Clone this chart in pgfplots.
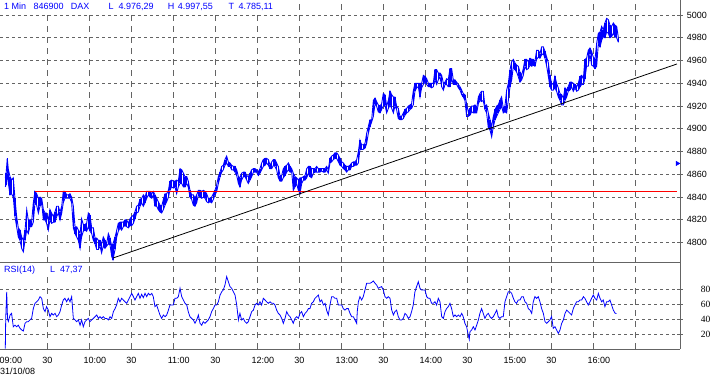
\documentclass[border=0pt]{standalone}
\usepackage{fontspec}
\setmainfont{Liberation Sans}
\newfontfamily\serifnum{Liberation Serif}
\usepackage{pgfplots}
\pgfplotsset{compat=1.18}
\usepackage{pgfplotstable}
\definecolor{dblue}{RGB}{0,0,255}
\definecolor{gridc}{RGB}{100,100,100}

\pgfplotstableread{
m lo hi
0.0 4849 4857
0.6 4851 4861
1.4 4861 4874
2.2 4852 4864
3.4 4842 4858
4.5 4843 4855
5.7 4840 4857
6.9 4823 4839
8.1 4814 4823
9.3 4805 4813
10.5 4802 4811
11.7 4795 4805
12.9 4792 4802
14.1 4802 4811
15.3 4811 4829
16.4 4808 4820
17.6 4814 4820
18.8 4814 4818
20.0 4818 4835
21.2 4835 4845
22.4 4833 4843
23.6 4826 4839
24.8 4832 4840
26.0 4835 4839
27.2 4820 4829
28.4 4820 4826
29.5 4817 4826
30.7 4811 4820
31.9 4820 4829
33.1 4817 4826
34.3 4818 4823
35.5 4818 4827
36.7 4823 4832
37.9 4826 4832
39.1 4820 4827
40.3 4826 4832
41.4 4835 4845
42.6 4839 4845
43.8 4839 4842
45.0 4839 4842
46.2 4839 4843
47.4 4835 4840
48.6 4813 4832
49.8 4808 4814
51.0 4805 4814
52.2 4802 4811
53.4 4795 4808
54.5 4805 4821
55.7 4810 4816
56.9 4811 4816
58.1 4810 4817
59.3 4814 4826
60.5 4810 4824
61.7 4808 4813
62.9 4802 4813
64.1 4799 4804
65.3 4794 4804
66.5 4794 4802
67.6 4797 4802
68.8 4791 4799
70.0 4797 4805
71.2 4795 4802
72.4 4797 4799
73.6 4799 4808
74.8 4798 4804
76.0 4788 4797
76.9 4785 4799
78.4 4794 4805
79.6 4805 4811
80.7 4810 4817
81.9 4813 4818
83.1 4811 4818
84.3 4814 4818
85.5 4815 4820
86.7 4814 4820
87.9 4813 4817
89.1 4815 4821
90.3 4815 4823
91.5 4817 4824
92.6 4821 4827
93.8 4826 4832
95.0 4827 4833
96.2 4832 4838
97.4 4835 4839
98.6 4832 4842
99.8 4835 4840
101.0 4839 4845
102.2 4842 4845
103.4 4840 4845
104.6 4839 4843
105.7 4842 4845
106.9 4832 4842
108.1 4832 4839
109.3 4829 4836
110.5 4827 4833
111.7 4826 4832
112.9 4829 4838
114.1 4833 4843
115.3 4836 4843
116.5 4840 4846
117.6 4846 4854
118.8 4849 4855
120.0 4848 4854
121.2 4849 4854
122.4 4843 4855
123.6 4849 4854
124.8 4852 4865
126.0 4852 4864
127.2 4849 4861
128.4 4849 4858
129.6 4852 4858
130.7 4849 4854
131.9 4840 4846
133.1 4838 4842
134.3 4833 4842
135.5 4832 4839
136.7 4835 4842
137.9 4842 4846
139.1 4840 4846
140.3 4839 4845
141.5 4840 4846
142.7 4839 4845
143.8 4836 4843
145.0 4835 4839
146.2 4836 4839
147.4 4835 4840
148.6 4838 4843
149.8 4842 4846
151.0 4845 4851
152.2 4852 4858
153.4 4858 4862
154.6 4862 4867
155.7 4864 4868
156.9 4868 4873
158.1 4870 4876
159.3 4867 4871
160.5 4867 4870
161.7 4864 4868
162.9 4864 4867
164.1 4862 4867
165.3 4859 4864
166.5 4852 4858
167.6 4849 4857
168.8 4855 4861
170.0 4858 4862
171.2 4858 4862
172.4 4855 4859
173.6 4852 4858
174.8 4855 4861
176.0 4858 4864
177.2 4862 4865
178.4 4862 4865
179.5 4862 4864
180.7 4859 4862
181.9 4861 4865
183.1 4864 4870
184.3 4867 4873
185.5 4868 4874
186.7 4870 4874
187.9 4868 4873
189.1 4865 4868
190.3 4865 4871
191.5 4868 4873
192.6 4867 4873
193.8 4864 4870
195.0 4857 4867
196.2 4854 4859
197.4 4854 4859
198.6 4857 4865
199.8 4859 4867
201.0 4862 4868
202.2 4864 4870
203.4 4862 4867
204.6 4862 4865
205.7 4846 4861
206.9 4849 4858
208.1 4852 4857
209.3 4846 4855
210.5 4843 4857
211.7 4852 4857
212.9 4855 4858
214.1 4855 4859
215.3 4857 4865
216.5 4861 4867
217.6 4858 4867
218.8 4857 4865
220.0 4861 4865
221.2 4862 4865
222.4 4862 4867
223.6 4862 4865
224.8 4862 4865
226.0 4863 4865
227.2 4862 4865
228.4 4862 4865
229.5 4864 4867
230.7 4861 4864
231.9 4870 4874
233.1 4871 4876
234.3 4873 4877
235.5 4874 4879
236.7 4874 4879
237.9 4871 4877
239.1 4868 4874
240.3 4867 4871
241.5 4865 4870
242.6 4864 4868
243.8 4862 4867
245.0 4864 4867
246.2 4864 4868
247.4 4867 4870
248.6 4867 4871
249.8 4868 4871
251.0 4868 4873
252.2 4870 4880
253.3 4882 4890
254.5 4882 4886
255.7 4882 4886
256.9 4883 4887
258.1 4887 4896
259.3 4896 4902
260.5 4902 4908
261.7 4906 4908
262.9 4911 4925
264.1 4922 4927
265.2 4920 4924
266.4 4915 4921
267.6 4914 4920
268.8 4917 4922
270.0 4920 4931
271.2 4921 4930
272.4 4914 4920
273.6 4918 4925
274.8 4921 4933
276.0 4918 4930
277.2 4914 4928
278.3 4920 4928
279.5 4917 4920
280.7 4909 4918
281.9 4908 4911
283.1 4908 4911
284.3 4909 4914
285.5 4912 4917
286.7 4914 4918
287.9 4915 4920
289.1 4917 4921
290.2 4918 4922
291.4 4921 4933
292.6 4933 4940
293.8 4936 4940
295.0 4937 4940
296.2 4928 4940
297.4 4936 4940
298.6 4939 4947
299.8 4941 4946
301.0 4939 4944
302.2 4937 4940
303.3 4937 4940
304.5 4936 4940
305.7 4937 4940
306.9 4943 4952
308.1 4939 4952
309.3 4943 4949
310.5 4946 4949
311.7 4937 4947
312.9 4934 4940
314.1 4939 4941
315.2 4939 4944
316.4 4937 4943
317.6 4937 4953
318.8 4944 4953
320.0 4939 4943
321.2 4939 4943
322.4 4939 4941
323.6 4936 4939
324.8 4934 4937
326.0 4930 4934
327.1 4928 4931
328.3 4925 4930
329.5 4911 4922
330.7 4911 4915
331.9 4912 4918
333.1 4915 4920
334.3 4914 4920
335.5 4914 4921
336.7 4914 4918
337.9 4922 4928
339.0 4925 4931
340.2 4924 4933
341.4 4925 4933
342.6 4917 4920
343.8 4914 4921
345.0 4901 4914
346.2 4899 4908
347.4 4893 4902
348.6 4902 4911
349.8 4908 4917
351.0 4911 4920
352.1 4914 4921
353.3 4917 4925
354.5 4920 4928
355.7 4914 4918
356.9 4915 4920
358.1 4914 4934
359.3 4925 4940
360.5 4937 4952
361.7 4943 4959
362.9 4955 4961
364.0 4952 4958
365.2 4950 4956
366.4 4946 4955
367.6 4941 4950
368.8 4943 4947
370.0 4947 4953
371.2 4955 4961
372.4 4952 4961
373.6 4953 4959
374.8 4956 4962
376.0 4955 4961
377.1 4956 4961
378.3 4955 4959
379.5 4961 4969
380.7 4963 4969
381.9 4962 4966
383.1 4965 4972
384.3 4966 4972
385.5 4962 4968
386.7 4955 4963
387.9 4946 4958
389.0 4937 4947
390.2 4934 4940
391.4 4934 4939
392.6 4936 4946
393.8 4933 4940
395.0 4928 4936
396.2 4925 4931
397.4 4921 4930
398.6 4921 4927
399.8 4925 4936
401.0 4928 4934
402.1 4933 4937
403.3 4934 4941
404.5 4937 4941
405.7 4933 4940
406.9 4936 4939
408.1 4933 4937
409.3 4934 4940
410.5 4937 4946
411.7 4939 4947
412.9 4939 4944
414.0 4944 4961
415.2 4955 4962
416.4 4955 4969
417.6 4966 4971
418.8 4956 4968
420.0 4955 4963
421.2 4953 4961
422.4 4955 4975
423.6 4975 4984
424.8 4972 4985
426.0 4978 4990
427.1 4981 4987
428.3 4980 4993
429.5 4985 4997
430.7 4984 4996
431.9 4980 4991
433.1 4981 4990
434.3 4984 4993
435.5 4981 4991
436.7 4980 4990
437.9 4976 4980
}\pricedata

\pgfplotstableread{
m rsi
0.0 1
0.3 41
1.0 76
1.6 40
2.2 37
3.4 45.5
4.5 47.7
5.7 30
6.9 32
8.1 30
9.3 32
10.5 28
11.7 25.7
12.9 24.3
14.1 34.5
15.3 36.7
16.4 36.7
17.6 39
18.8 41
20.0 54
21.2 61
22.4 63
23.6 65.4
24.8 69.8
26.0 67.6
27.2 54
28.4 50
29.5 56.6
30.7 52
31.9 43.3
33.1 47.7
34.3 45.5
35.5 47.7
36.7 43.3
37.9 45.5
39.1 50
40.3 58.8
41.4 65.4
42.6 67.6
43.8 63
45.0 67.6
46.2 63
47.4 69.8
48.6 41
49.8 39
51.0 36.7
52.2 39
53.4 32
54.5 39
55.7 30
56.9 36.7
58.1 39
59.3 41
60.5 36.7
61.7 39
62.9 41
64.1 43.3
65.3 45.5
66.5 41
67.6 43.3
68.8 41
70.0 43.3
71.2 41
72.4 41
73.6 39
74.8 43.3
76.0 41
77.2 50
78.4 54
79.5 58.8
80.7 67.6
81.9 63
83.1 67.6
84.3 65.4
85.5 63
86.7 61
87.9 65.4
89.1 69.8
90.3 74.2
91.5 69.8
92.6 65.4
93.8 69.8
95.0 74.2
96.2 67.6
97.4 73
98.6 68.5
99.8 74.2
101.0 69.8
102.2 74.2
103.4 72
104.6 74.2
105.7 69.8
106.9 56.6
108.1 58.8
109.3 52
110.5 45.5
111.7 41
112.9 45.5
114.1 43.3
115.3 45.5
116.5 52
117.6 58.8
118.8 58.8
120.0 58.8
121.2 67.6
122.4 67.6
123.6 69.8
124.8 80.9
126.0 69.8
127.2 65.4
128.4 61
129.6 58.8
130.7 50
131.9 43.3
133.1 41
134.3 39
135.5 34.5
136.7 39
137.9 45.5
139.1 34.5
140.3 32
141.4 36.7
142.6 34.5
143.8 36.7
145.0 39
146.2 43.3
147.4 50
148.6 54
149.8 58.8
151.0 58.8
152.2 63
153.4 72
154.6 76.4
155.7 78.6
156.9 85.3
158.1 96.3
159.3 89.7
160.5 83.1
161.7 80.9
162.9 76.4
164.1 72
165.3 58.8
166.5 39
167.6 47.7
168.8 39
170.0 41
171.2 36.7
172.4 34.5
173.6 36.7
174.8 43.3
176.0 50
177.2 52
178.4 58.8
179.5 61
180.7 58.8
181.9 63
183.1 58.8
184.3 67.6
185.5 65.4
186.7 63
187.9 61
189.1 63
190.3 61
191.5 61
192.6 58.8
193.8 52
195.0 47.7
196.2 45.5
197.4 41
198.6 34.5
199.8 41
201.0 50
202.2 45.5
203.4 43.3
204.6 39
205.7 34.5
206.9 41
208.1 43.3
209.3 41
210.5 47.7
211.7 50
212.9 43.3
214.1 47.7
215.3 50
216.5 54
217.6 54
218.8 61
220.0 63
221.2 67.6
222.4 69.8
223.6 72
224.8 63
226.0 65.4
227.2 58.8
228.4 61
229.5 52
230.7 45.5
231.9 58.8
233.1 69.8
234.3 69.8
235.5 67.6
236.7 67.6
237.9 58.8
239.1 58.8
240.3 58.8
241.4 54
242.6 52
243.8 54
245.0 54
246.2 47.7
247.4 43.3
248.6 43.3
249.8 39
251.0 34.5
251.4 50
252.2 63
253.3 69.8
254.5 65.4
255.7 69.8
256.9 78.6
258.1 87.5
259.3 87.5
260.5 87.5
261.7 88.8
262.9 90.6
264.1 87.5
265.2 85.3
266.4 80.9
267.6 82.2
268.8 83.1
270.0 78.6
271.2 69.8
272.4 67.6
273.6 69.8
274.8 67.6
276.0 52
277.2 45.5
278.3 50
279.5 52
280.7 43.3
281.9 39
283.1 39
284.3 41
285.5 47.7
286.7 45.5
287.9 41
289.1 43.3
290.2 50
291.4 58.8
292.6 76.4
293.8 83.1
295.0 89.7
296.2 80.9
297.4 78.6
298.6 78.6
299.8 78.6
301.0 69.8
302.2 67.6
303.3 67.6
304.5 61
305.7 61
306.9 63
308.1 58.8
309.3 67.6
310.5 63
311.7 43.3
312.9 41
314.1 50
315.2 54
316.4 56.6
317.6 61
318.8 54
320.0 43.3
321.2 45.5
322.4 43.3
323.6 45.5
324.8 43.3
326.0 47.7
327.1 43.3
328.3 34.5
329.5 30
330.7 19
331.4 13.3
331.9 23.5
333.1 25.7
334.3 30
335.5 25.7
336.7 32
337.9 39
339.0 47.7
340.2 54
341.4 47.7
342.6 41
343.8 45.5
345.0 47.7
346.2 43.3
347.4 41
348.6 43.3
349.8 47.7
351.0 52
352.1 43.3
353.3 41
354.5 43.3
355.7 43.3
356.9 63
358.1 69.8
359.3 76.4
360.5 76.4
361.7 74.2
362.9 67.6
364.0 63
365.2 61
366.4 65.4
367.6 65.4
368.8 69.8
370.0 69.8
371.2 63
372.4 61
373.6 54
374.8 52
376.0 47.7
377.1 63
378.3 69.8
379.5 67.6
380.7 69.8
381.9 63
383.1 54
384.3 47.7
385.5 36.7
386.7 34.5
387.9 36.7
389.0 39
390.2 43.3
391.4 27.9
392.6 30
393.8 25.7
395.0 21.2
396.2 25.7
397.4 34.5
398.6 39
399.8 47.7
401.0 52
402.1 50
403.3 47.7
404.5 45.5
405.7 54
406.9 58.8
408.1 63
409.3 63
410.5 65.4
411.7 65.4
412.9 69.8
414.0 67.6
415.2 63
416.4 58.8
417.6 63
418.8 67.6
420.0 72
421.2 67.6
422.4 65.4
423.6 74.2
424.8 67.6
426.0 63
427.1 65.4
428.3 56.6
429.5 63
430.7 63
431.9 65.4
433.1 58.8
434.3 52
435.5 48
436.5 47.4
}\rsidata

\pgfplotsset{
  chartbase/.style={
    scale only axis, width=680pt,
    xmin=-3.786, xmax=481.93,
    axis x line*=bottom, axis y line*=right,
    axis line style={gridc, line width=0.8pt},
    xtick={30,60,...,450},
    grid=major,
    x grid style={gridc, line width=0.8pt, dash pattern=on 6pt off 5pt},
    y grid style={gridc, line width=0.8pt, dash pattern=on 3pt off 3pt},
    xtick style={draw=none},
    ytick style={gridc, line width=0.8pt},
    tick align=center,
    major tick length=5.5pt,
    /pgf/number format/assume math mode=true,
    /pgf/number format/1000 sep={},
  }
}

\begin{document}
\begin{tikzpicture}
\path[use as bounding box] (0pt,0pt) rectangle (711pt,379pt);
\begin{axis}[chartbase,
  at={(0pt,116.3pt)}, anchor=south west, height=262.7pt,
  ymin=4782.4, ymax=5013.2,
  xticklabels={},
  ytick={4800,4820,...,5000},
  yticklabel style={font=\fontsize{9}{10}\selectfont, anchor=west, xshift=0.5pt},
]
\addplot[dblue, line width=0.9pt, mark=none,
  error bars/.cd, y dir=plus, y explicit,
  error bar style={line width=1.5pt, dblue}, error mark=none]
  table[x=m, y=lo, y error plus expr={\thisrow{hi}-\thisrow{lo}}]{\pricedata};
\addplot[dblue, line width=0.9pt] table[x=m,y=hi]{\pricedata};
\addplot[red, line width=0.9pt] coordinates {(21.2,4844.8) (479.8,4844.8)};
\addplot[black, line width=0.8pt] coordinates {(76.9,4786.5) (479.8,4957)};
\addplot[dblue, only marks, mark=triangle*, mark size=2.6pt, mark options={rotate=-90}] coordinates {(480,4869.6)};
\end{axis}
\begin{axis}[chartbase,
  at={(0pt,30pt)}, anchor=south west, height=86.3pt,
  ymin=0.5, ymax=114.8,
  ytick={20,40,60,80},
  xticklabels={30,\hspace*{11pt}10:00,30,\hspace*{11pt}11:00,30,\hspace*{11pt}12:00,30,\hspace*{11pt}13:00,30,\hspace*{11pt}14:00,30,\hspace*{11pt}15:00,30,\hspace*{11pt}16:00,{}},
  extra x ticks={0},
  extra x tick labels={\hspace*{11pt}09:00},
  extra x tick style={grid=none},
  xticklabel style={font=\fontsize{9}{10}\selectfont, yshift=-2pt},
  yticklabel style={font=\serifnum\fontsize{9.5}{10}\selectfont, anchor=west, xshift=14.5pt},
]
\addplot[dblue, line width=0.8pt] table[x=m,y=rsi]{\rsidata};
\end{axis}
\fill[white] (0pt,365pt) rectangle (280pt,379pt);
\fill[white] (0pt,104pt) rectangle (86pt,116pt);
\begin{scope}[every node/.style={inner sep=0pt, anchor=base west, text=dblue, font=\fontsize{9}{10}\selectfont}]
\node at (4pt,369.7pt) {1 Min};
\node at (33.3pt,369.7pt) {846900};
\node at (70.7pt,369.7pt) {DAX};
\node at (108.3pt,369.7pt) {L};
\node at (118.3pt,369.7pt) {4.976,29};
\node at (167.7pt,369.7pt) {H};
\node at (177.7pt,369.7pt) {4.997,55};
\node at (228.3pt,369.7pt) {T};
\node at (238.3pt,369.7pt) {4.785,11};
\node at (4pt,106.7pt) {RSI(14)};
\node at (50pt,106.7pt) {L};
\node at (60pt,106.7pt) {47,37};
\node[text=black] at (0pt,4pt) {31/10/08};
\end{scope}
\end{tikzpicture}
\end{document}
